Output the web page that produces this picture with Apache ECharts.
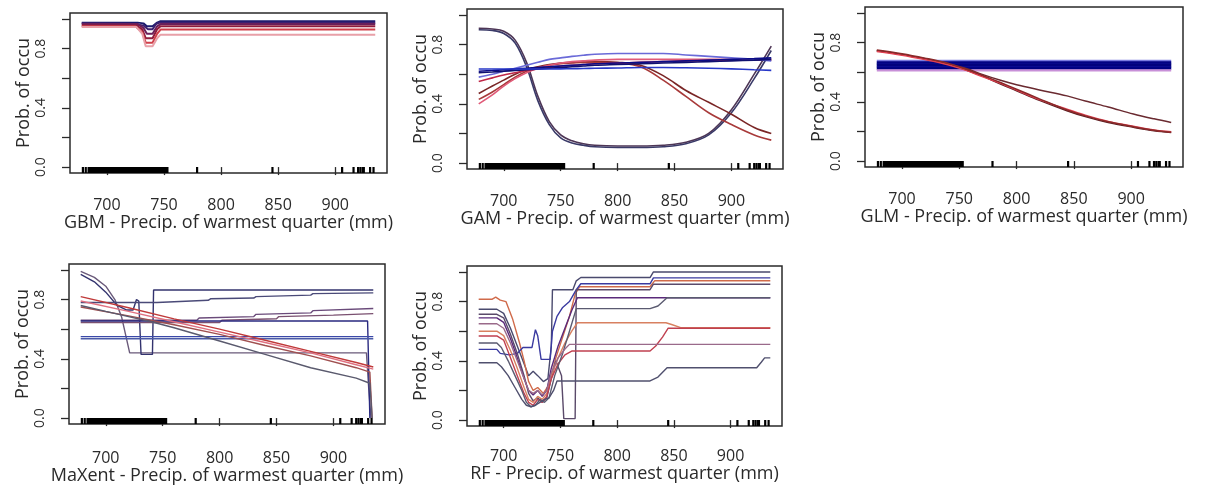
<!DOCTYPE html>
<html>
<head>
<meta charset="utf-8">
<title>Response curves</title>
<script src="https://cdn.jsdelivr.net/npm/echarts@6/dist/echarts.min.js"></script>
<style>
  html, body { margin: 0; padding: 0; background: #fff; }
  #chart { width: 1215px; height: 486px; }
</style>
</head>
<body>
<div id="chart"></div>
<script>
// ---- data ----
var panelTitles = [
  'GBM - Precip. of warmest quarter (mm)',
  'GAM - Precip. of warmest quarter (mm)',
  'GLM - Precip. of warmest quarter (mm)',
  'MaXent - Precip. of warmest quarter (mm)',
  'RF - Precip. of warmest quarter (mm)'
];
var yName = 'Prob. of occu';
var xTicks = [700, 750, 800, 850, 900];
var yTicks = [0, 0.2, 0.4, 0.6, 0.8, 1.0];
var yLabels = [0, 0.4, 0.8];

// observed precipitation values (rug)
var rugX = [679, 681.5, 684, 685, 686, 687, 688, 689, 690, 691, 692, 693, 694, 695, 696, 697,
  698, 699, 700, 701, 702, 703, 704, 705, 706, 707, 708, 709, 710, 711, 712, 713, 714, 715,
  716, 717, 718, 719, 720, 721, 722, 723, 724, 725, 726, 727, 728, 729, 730, 731, 732, 733,
  734, 735, 736, 737, 738, 739, 740, 741, 742, 743, 744, 745, 746, 747, 748, 749, 750, 751,
  752, 753, 779, 845, 906, 916, 920, 922, 924, 925, 930.5, 933.5];

// GBM runs: [x, prob]
var gbmRuns = [
  [[678,0.975],[727,0.975],[732,0.97],[735,0.95],[740,0.95],[744,0.975],[747,0.984],[935,0.984]],
  [[678,0.97],[720,0.968],[732,0.955],[736,0.93],[740,0.93],[743,0.965],[746,0.975],[935,0.975]],
  [[678,0.965],[727,0.965],[732,0.94],[735,0.9],[740,0.9],[744,0.95],[747,0.965],[935,0.965]],
  [[678,0.955],[726,0.955],[731,0.93],[734,0.87],[740,0.87],[744,0.93],[747,0.951],[935,0.951]],
  [[678,0.95],[725,0.95],[731,0.91],[734,0.84],[740,0.84],[744,0.9],[747,0.928],[935,0.928]],
  [[678,0.945],[726,0.945],[731,0.9],[734,0.815],[740,0.815],[744,0.87],[747,0.894],[935,0.894]]
];
var gbmColors = ['#1a1a6e', '#3c2070', '#6a1f5a', '#8e1c3c', '#d0404a', '#e8a0a8'];

// GAM runs (smooth), y at gamX
var gamX = [678, 690, 700, 710, 720, 730, 740, 750, 760, 770, 780, 800, 820, 840, 860, 880, 900, 920, 935];
var gamRuns = [
  [0.91,0.905,0.89,0.83,0.68,0.45,0.28,0.19,0.15,0.13,0.12,0.115,0.115,0.12,0.14,0.2,0.36,0.6,0.79],
  [0.9,0.895,0.875,0.81,0.65,0.42,0.26,0.17,0.135,0.12,0.11,0.105,0.105,0.11,0.13,0.19,0.34,0.57,0.76],
  [0.47,0.52,0.56,0.6,0.63,0.65,0.665,0.675,0.68,0.685,0.685,0.68,0.66,0.59,0.49,0.41,0.33,0.24,0.2],
  [0.43,0.48,0.53,0.58,0.62,0.645,0.66,0.67,0.675,0.68,0.68,0.675,0.65,0.56,0.45,0.34,0.26,0.19,0.155],
  [0.4,0.46,0.52,0.57,0.61,0.64,0.66,0.675,0.685,0.69,0.695,0.7,0.7,0.7,0.7,0.7,0.7,0.7,0.7],
  [0.55,0.575,0.595,0.61,0.625,0.635,0.645,0.655,0.66,0.665,0.67,0.675,0.68,0.685,0.69,0.69,0.695,0.695,0.695],
  [0.58,0.6,0.62,0.64,0.66,0.68,0.7,0.71,0.72,0.728,0.735,0.74,0.74,0.74,0.73,0.72,0.71,0.7,0.69],
  [0.62,0.625,0.63,0.635,0.64,0.645,0.65,0.655,0.66,0.665,0.67,0.675,0.68,0.685,0.69,0.695,0.7,0.705,0.71],
  [0.61,0.615,0.62,0.625,0.63,0.635,0.64,0.645,0.65,0.655,0.66,0.665,0.67,0.675,0.68,0.685,0.69,0.695,0.7],
  [0.635,0.635,0.635,0.635,0.635,0.635,0.635,0.636,0.637,0.638,0.64,0.642,0.645,0.645,0.643,0.64,0.636,0.63,0.626]
];
var gamColors = ['#4e3656', '#3a3a68', '#7a2626', '#a83a3a', '#e05a78', '#c02848', '#6a6ad8', '#0c0c88', '#101070', '#2838c8'];

// GLM runs (smooth), y at glmX
var glmX = [678, 700, 720, 740, 756, 770, 786, 800, 820, 844, 860, 880, 902, 920, 935];
var glmBand = [0.676, 0.665, 0.655, 0.645, 0.635, 0.625, 0.612];
var glmBandColors = ['#7b7be0', '#000080', '#08088a', '#000078', '#0a0a90', '#000080', '#c890d8'];
var glmRuns = [
  [0.745,0.72,0.69,0.655,0.625,0.585,0.545,0.515,0.48,0.44,0.405,0.365,0.318,0.285,0.26],
  [0.745,0.72,0.69,0.655,0.615,0.575,0.52,0.475,0.41,0.34,0.3,0.26,0.228,0.205,0.193],
  [0.74,0.715,0.685,0.65,0.612,0.57,0.525,0.48,0.415,0.35,0.31,0.268,0.235,0.21,0.198],
  [0.75,0.725,0.695,0.66,0.62,0.58,0.53,0.485,0.42,0.345,0.305,0.265,0.232,0.208,0.195]
];
var glmColors = ['#6a2a30', '#5a1e22', '#e04050', '#8a2a2a'];

// MaxEnt runs: [x, prob]
var maxentRuns = [
  [[678,0.99],[690,0.95],[700,0.89],[708,0.8],[714,0.68],[721,0.44],[929,0.44],[931,0.2],[933,0.0]],
  [[678,0.97],[690,0.92],[700,0.85],[710,0.76],[718,0.73],[724,0.73],[727,0.8],[729,0.79],[731,0.43],[741,0.43],[742,0.865],[935,0.865]],
  [[678,0.78],[745,0.78],[746,0.79],[790,0.795],[792,0.805],[830,0.81],[832,0.82],[880,0.83],[882,0.84],[935,0.845]],
  [[678,0.66],[780,0.66],[782,0.675],[830,0.685],[832,0.7],[880,0.71],[882,0.725],[935,0.74]],
  [[678,0.645],[800,0.645],[802,0.66],[850,0.67],[852,0.685],[900,0.695],[935,0.705]],
  [[678,0.655],[930,0.655],[932,0.0]],
  [[678,0.55],[935,0.55]],
  [[678,0.535],[935,0.535]],
  [[678,0.82],[720,0.745],[760,0.67],[800,0.6],[840,0.525],[880,0.45],[920,0.375],[935,0.345]],
  [[678,0.79],[720,0.72],[760,0.65],[800,0.58],[840,0.51],[880,0.44],[920,0.36],[935,0.33]],
  [[678,0.75],[720,0.69],[760,0.63],[800,0.565],[840,0.49],[880,0.42],[920,0.34],[932,0.31],[934,0.0]],
  [[678,0.76],[700,0.72],[720,0.685],[740,0.65],[760,0.61],[800,0.52],[840,0.43],[880,0.34],[920,0.27],[932,0.235],[934,0.0]]
];
var maxentColors = ['#6a5a7a', '#33336e', '#4a4a78', '#6a4a7a', '#7a5070', '#2a2a80',
  '#3a48a8', '#4a5aa8', '#c03a3a', '#e07080', '#a05050', '#5a5a6e'];

// RF runs: [x, prob]
var rfRuns = [
  [[678,0.748],[694,0.748],[700,0.72],[706,0.62],[712,0.5],[718,0.38],[722,0.3],[726,0.33],[730,0.3],[735,0.26],[739,0.28],[742,0.5],[743,0.88],[761,0.88],[764,0.94],[768,0.962],[829,0.962],[832,1.0],[935,1.0]],
  [[678,0.816],[690,0.816],[693,0.83],[697,0.81],[702,0.8],[708,0.68],[714,0.52],[718,0.4],[722,0.26],[726,0.2],[730,0.22],[735,0.18],[740,0.24],[746,0.42],[752,0.56],[758,0.7],[763,0.85],[767,0.9],[829,0.9],[833,0.94],[935,0.94]],
  [[678,0.477],[694,0.477],[697,0.45],[705,0.44],[712,0.45],[717,0.49],[725,0.49],[728,0.61],[730,0.57],[733,0.41],[741,0.41],[743,0.6],[747,0.7],[752,0.76],[758,0.8],[764,0.88],[768,0.92],[829,0.92],[832,0.96],[935,0.96]],
  [[678,0.714],[694,0.714],[700,0.69],[706,0.58],[712,0.45],[718,0.3],[722,0.18],[726,0.13],[730,0.15],[734,0.12],[738,0.15],[742,0.28],[746,0.4],[751,0.3],[753,0.01],[763,0.01],[764,0.88],[829,0.88],[832,0.917],[935,0.917]],
  [[678,0.69],[694,0.69],[700,0.66],[706,0.55],[712,0.42],[718,0.28],[722,0.2],[726,0.17],[730,0.2],[734,0.16],[738,0.2],[742,0.35],[748,0.5],[754,0.62],[760,0.74],[765,0.826],[935,0.826]],
  [[678,0.6],[694,0.6],[700,0.57],[706,0.47],[712,0.35],[718,0.22],[722,0.14],[726,0.12],[730,0.16],[734,0.14],[738,0.18],[742,0.3],[748,0.42],[754,0.52],[760,0.6],[765,0.657],[843,0.657],[848,0.645],[856,0.624],[935,0.624]],
  [[678,0.568],[694,0.568],[700,0.54],[706,0.42],[712,0.3],[718,0.18],[722,0.12],[726,0.1],[730,0.14],[734,0.12],[738,0.16],[742,0.28],[748,0.38],[754,0.44],[760,0.466],[829,0.466],[834,0.5],[840,0.56],[845,0.62],[935,0.62]],
  [[678,0.52],[694,0.52],[698,0.49],[704,0.4],[710,0.3],[716,0.2],[720,0.12],[724,0.09],[728,0.1],[732,0.14],[736,0.12],[740,0.15],[745,0.3],[752,0.45],[758,0.6],[764,0.752],[829,0.752],[836,0.77],[844,0.826],[935,0.826]],
  [[678,0.387],[694,0.387],[698,0.36],[704,0.3],[710,0.22],[716,0.14],[720,0.1],[724,0.09],[728,0.1],[732,0.12],[736,0.14],[740,0.15],[744,0.2],[747,0.264],[829,0.264],[836,0.29],[844,0.353],[923,0.353],[927,0.39],[930,0.42],[935,0.42]],
  [[678,0.65],[694,0.65],[700,0.62],[706,0.52],[712,0.4],[718,0.28],[722,0.2],[726,0.18],[730,0.2],[734,0.17],[738,0.2],[742,0.32],[748,0.42],[754,0.48],[758,0.511],[935,0.511]]
];
var rfColors = ['#4a4a6e', '#d06a4a', '#3a3aa0', '#5a4a6a', '#5a2a7a', '#d88060', '#c04050', '#5a5a70', '#50506e', '#9a6a8a'];

// ---- layout ----
var FONT = 'Open Sans';
var TXT = '#2a2a2a';
var panels = [
  { left: 70,  top: 13,  width: 317, height: 160, labelGap: 24, nameGap: 36 },
  { left: 467, top: 9,   width: 316, height: 160, labelGap: 24, nameGap: 36 },
  { left: 865, top: 7,   width: 318, height: 160, labelGap: 24, nameGap: 36 },
  { left: 69,  top: 264, width: 316, height: 160, labelGap: 26, nameGap: 35 },
  { left: 467, top: 266, width: 315, height: 160, labelGap: 22, nameGap: 33 }
];

var chart = echarts.init(document.getElementById('chart'), null, { renderer: 'canvas' });

var grids = [], xAxes = [], yAxes = [], series = [];

panels.forEach(function (p, i) {
  grids.push({
    left: p.left, top: p.top, width: p.width, height: p.height,
    show: true, borderColor: '#2a2a2a', borderWidth: 1.5, backgroundColor: 'transparent'
  });
  xAxes.push({
    type: 'value', gridIndex: i, min: 667.7, max: 945.3,
    axisLine: { show: false }, splitLine: { show: false },
    axisTick: { show: true, customValues: xTicks, length: 8, lineStyle: { color: '#2a2a2a', width: 1.3 } },
    axisLabel: { customValues: xTicks, margin: p.labelGap, fontSize: 16, color: TXT, fontFamily: FONT },
    name: panelTitles[i], nameLocation: 'middle', nameGap: p.nameGap,
    nameTextStyle: { fontSize: 18, color: TXT, fontFamily: FONT }
  });
  yAxes.push({
    type: 'value', gridIndex: i, min: -0.04, max: 1.04,
    axisLine: { show: false }, splitLine: { show: false },
    axisTick: { show: true, customValues: yTicks, length: 8, lineStyle: { color: '#2a2a2a', width: 1.3 } },
    axisLabel: {
      customValues: yLabels, rotate: 90, margin: 22, fontSize: 14, color: TXT, fontFamily: FONT,
      formatter: function (v) { return v.toFixed(1); }
    },
    name: yName, nameLocation: 'middle', nameRotate: 90, nameGap: 36,
    nameTextStyle: { fontSize: 18, color: TXT, fontFamily: FONT }
  });
  // rug of observations along the bottom of the box
  series.push({
    type: 'custom', xAxisIndex: i, yAxisIndex: i, silent: true, z: 5,
    data: rugX.map(function (v) { return [v]; }),
    renderItem: function (params, api) {
      var pt = api.coord([api.value(0), -0.04]);
      return {
        type: 'line',
        shape: { x1: pt[0], y1: pt[1], x2: pt[0], y2: pt[1] - 6 },
        style: { stroke: '#000', lineWidth: 2.2 }
      };
    }
  });
});

function addLine(i, data, color, width, smooth) {
  series.push({
    type: 'line', xAxisIndex: i, yAxisIndex: i, data: data,
    showSymbol: false, symbol: 'none', smooth: smooth ? 0.35 : false, silent: true,
    lineStyle: { color: color, width: width }
  });
}

function pair(xs, ys) {
  return xs.map(function (x, k) { return [x, ys[k]]; });
}

gbmRuns.forEach(function (r, k) { addLine(0, r, gbmColors[k], 2, false); });
gamRuns.forEach(function (r, k) { addLine(1, pair(gamX, r), gamColors[k], 1.6, true); });
glmBand.forEach(function (v, k) { addLine(2, [[678, v], [935, v]], glmBandColors[k], 2.4, false); });
glmRuns.forEach(function (r, k) { addLine(2, pair(glmX, r), glmColors[k], 1.5, true); });
maxentRuns.forEach(function (r, k) { addLine(3, r, maxentColors[k], 1.4, false); });
rfRuns.forEach(function (r, k) { addLine(4, r, rfColors[k], 1.4, false); });

chart.setOption({
  animation: false,
  backgroundColor: '#fff',
  grid: grids,
  xAxis: xAxes,
  yAxis: yAxes,
  series: series
});
</script>
</body>
</html>
